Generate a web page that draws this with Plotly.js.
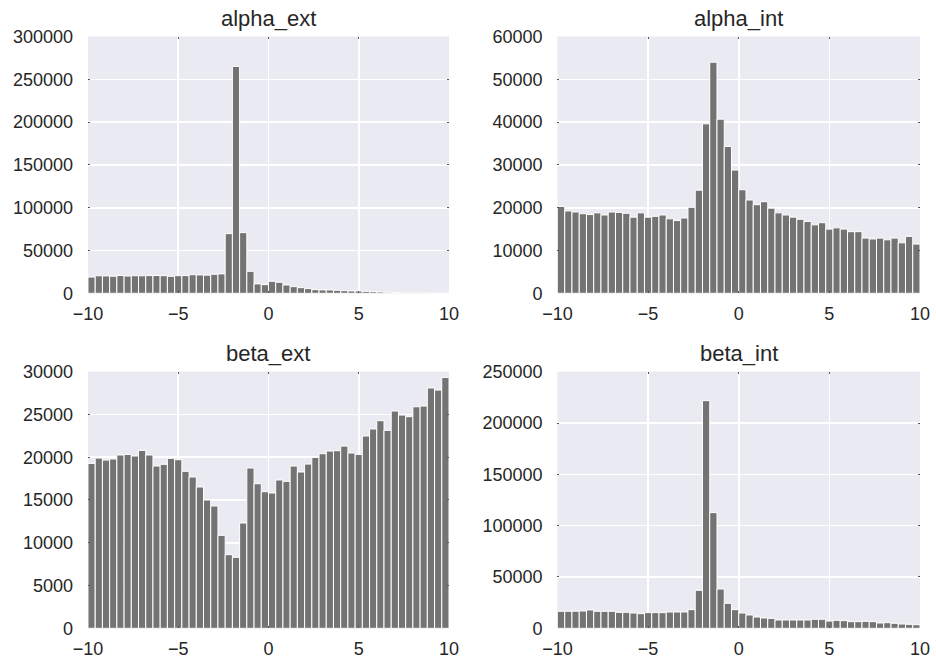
<!DOCTYPE html>
<html>
<head>
<meta charset="utf-8">
<script src="https://cdn.plot.ly/plotly-3.0.1.min.js"></script>
<style>html,body{margin:0;padding:0;background:#fff;}#chart{width:936px;height:663px;}</style>
</head>
<body>
<div id="chart"></div>
<script>
// Histogram bins: 50 bins of width 0.4 from -10 to 10
var binStart = -10;
var binWidth = 0.4;

var titles = ["alpha_ext", "alpha_int", "beta_ext", "beta_int"];

var alphaExt = [19000, 20500, 20300, 20000, 20800, 20200, 20500, 20500, 20700, 20800,
  20600, 19900, 20600, 20700, 21700, 21500, 21200, 22300, 22700, 69700,
  265000, 70900, 25700, 11000, 10100, 14000, 12900, 9700, 7800, 6600,
  5500, 4300, 4000, 3900, 3500, 3100, 2800, 2700, 2300, 1900,
  1600, 1200, 900, 700, 500, 400, 300, 200, 150, 100];

var alphaInt = [20300, 19250, 19000, 18600, 18400, 18800, 18300, 19000, 18900, 18700,
  17800, 18800, 17800, 18000, 18300, 17400, 17000, 17600, 20100, 24100,
  39600, 54000, 40700, 34300, 28800, 24200, 21800, 20700, 21400, 19900,
  18800, 18300, 17800, 17300, 16800, 16000, 16500, 15000, 15300, 15000,
  14400, 14400, 12900, 12700, 12900, 12500, 12900, 11800, 13300, 11500];

var betaExt = [19280, 19900, 19670, 19790, 20260, 20330, 20140, 20800, 20260, 18970,
  19170, 19870, 19710, 18350, 17690, 16520, 15000, 14300, 10870, 8610,
  8300, 12310, 18740, 16900, 15970, 15820, 17340, 17180, 18970, 18270,
  19200, 19980, 20410, 20720, 20760, 21300, 20490, 20330, 22480, 23300,
  24270, 23140, 25400, 24930, 24740, 25900, 25980, 28090, 27850, 29330];

var betaInt = [16600, 16600, 16700, 16900, 17900, 16600, 16600, 16600, 15600, 15600,
  14900, 14300, 15300, 15300, 15300, 15900, 15900, 15900, 18200, 37000,
  221800, 112700, 38300, 24400, 18200, 14900, 13000, 11000, 10100, 9700,
  8100, 8100, 8100, 8100, 8100, 8800, 8800, 7100, 7800, 7500,
  6500, 6500, 6800, 6500, 5200, 5500, 4900, 4200, 3900, 3500];

var yRanges = [[0, 300000], [0, 60000], [0, 30000], [0, 250000]];
var yDticks = [50000, 10000, 5000, 50000];
var xTickVals = [-10, -5, 0, 5, 10];
var xTickText = ["\u221210", "\u22125", "0", "5", "10"];

var series = [alphaExt, alphaInt, betaExt, betaInt];

function centers(n) {
  var c = [];
  for (var i = 0; i < n; i++) c.push(binStart + binWidth * (i + 0.5));
  return c;
}

var xDomains = [[0.0940, 0.4797], [0.5956, 0.9829], [0.0940, 0.4797], [0.5956, 0.9829]];
var yDomains = [[0.5576, 0.9449], [0.5576, 0.9449], [0.0523, 0.4394], [0.0523, 0.4394]];

var traces = [];
var layout = {
  width: 936, height: 663,
  margin: {l: 0, r: 0, t: 0, b: 0},
  paper_bgcolor: "#ffffff",
  plot_bgcolor: "#EAEAF2",
  showlegend: false,
  bargap: 0,
  font: {family: "Liberation Sans, Arial, sans-serif", size: 18, color: "#262626"},
  annotations: []
};

for (var k = 0; k < 4; k++) {
  var sfx = k === 0 ? "" : String(k + 1);
  traces.push({
    type: "bar",
    x: centers(series[k].length),
    y: series[k],
    width: binWidth,
    xaxis: "x" + sfx,
    yaxis: "y" + sfx,
    marker: {color: "#737373", line: {color: "#ffffff", width: 1}},
    hoverinfo: "x+y"
  });
  layout["xaxis" + sfx] = {
    domain: xDomains[k],
    anchor: "y" + sfx,
    range: [-10, 10],
    tickmode: "array",
    tickvals: xTickVals,
    ticktext: xTickText,
    showgrid: true,
    gridcolor: "#ffffff",
    gridwidth: 1.6,
    zeroline: false,
    showline: false,
    ticks: "inside",
    ticklen: 2,
    tickwidth: 1,
    tickcolor: "#555555",
    mirror: "ticks",
    ticklabelstandoff: 8,
    tickfont: {size: 18, color: "#262626"}
  };
  layout["yaxis" + sfx] = {
    domain: yDomains[k],
    anchor: "x" + sfx,
    range: yRanges[k],
    dtick: yDticks[k],
    tick0: 0,
    showgrid: true,
    gridcolor: "#ffffff",
    gridwidth: 1.6,
    zeroline: false,
    showline: false,
    ticks: "inside",
    ticklen: 2,
    tickwidth: 1,
    tickcolor: "#555555",
    mirror: "ticks",
    ticklabelstandoff: 14,
    tickformat: "d",
    separatethousands: false,
    tickfont: {size: 18, color: "#262626"}
  };
  layout.annotations.push({
    text: titles[k],
    xref: "x" + sfx + " domain",
    yref: "y" + sfx + " domain",
    x: 0.5, y: 1,
    xanchor: "center", yanchor: "bottom",
    yshift: 4,
    showarrow: false,
    font: {size: 22, color: "#262626"}
  });
}

Plotly.newPlot("chart", traces, layout, {displayModeBar: false, staticPlot: true});
</script>
</body>
</html>
